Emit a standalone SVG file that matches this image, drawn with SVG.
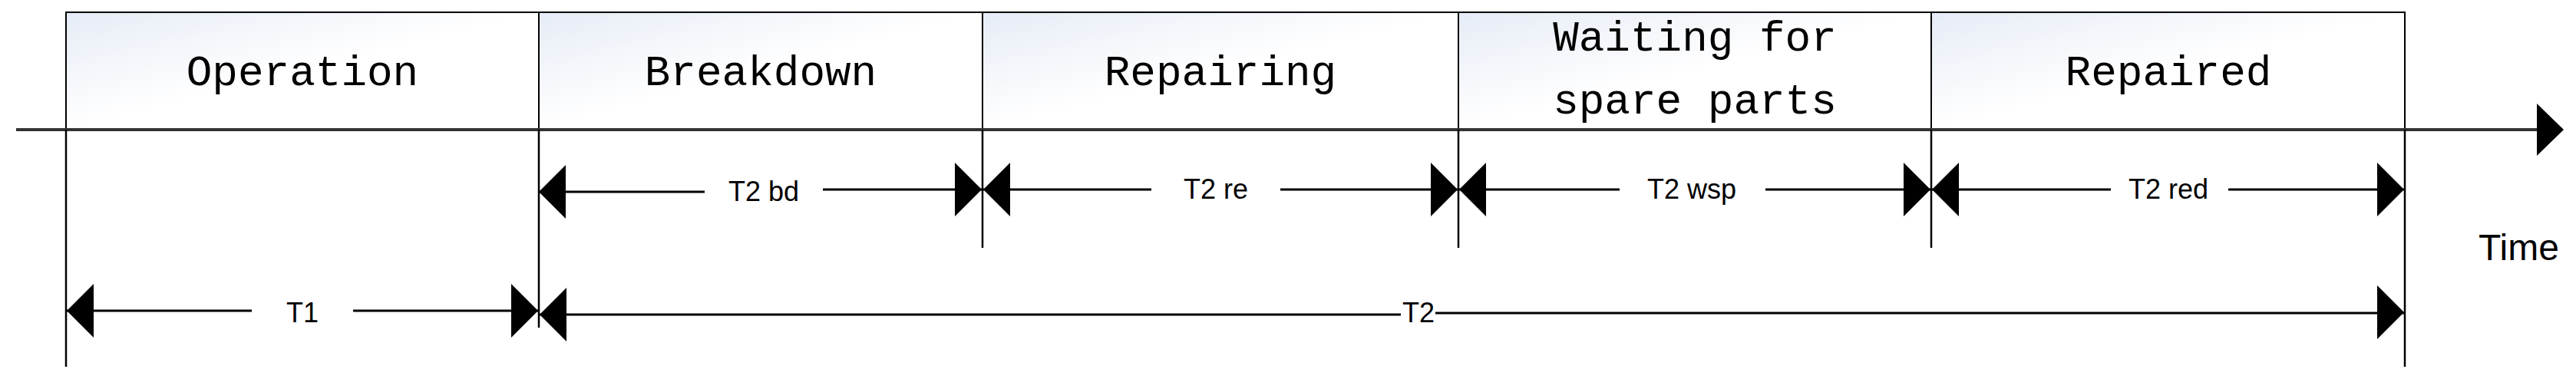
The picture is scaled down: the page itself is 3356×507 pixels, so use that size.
<svg xmlns="http://www.w3.org/2000/svg" width="3356" height="507" viewBox="0 0 3356 507">
<defs>
<linearGradient id="g" x1="0" y1="0" x2="1" y2="1"><stop offset="0" stop-color="#e6ecf6"/><stop offset="0.5" stop-color="#ffffff"/></linearGradient>
<style>
.box{fill:url(#g);stroke:#000;stroke-width:2}
.bt{font-family:"Liberation Mono",monospace;font-size:56px;text-anchor:middle}
.lb{font-family:"Liberation Sans",sans-serif;font-size:36px;text-anchor:middle}
.ln{stroke:#000;stroke-width:3;fill:none}
.v{stroke:#000;stroke-width:2.5}
.ah{fill:#000}
</style>
</defs>
<g id="nodes">
<g id="operation"><rect class="box" x="86" y="16" width="616" height="153"/><text class="bt" x="394" y="111">Operation</text></g>
<g id="breakdown"><rect class="box" x="702" y="16" width="578" height="153"/><text class="bt" x="991" y="111">Breakdown</text></g>
<g id="repairing"><rect class="box" x="1280" y="16" width="620" height="153"/><text class="bt" x="1590" y="111">Repairing</text></g>
<g id="waiting"><rect class="box" x="1900" y="16" width="616" height="153"/><text class="bt" x="2208" y="66">Waiting for</text><text class="bt" x="2208" y="148">spare parts</text></g>
<g id="repaired"><rect class="box" x="2516" y="16" width="617" height="153"/><text class="bt" x="2825" y="111">Repaired</text></g>
<text id="time" x="3229" y="339" font-family="Liberation Sans,sans-serif" font-size="48">Time</text>
</g>
<g id="connectors">
<line x1="21" y1="169" x2="3310" y2="169" stroke="#333" stroke-width="4"/>
<polygon class="ah" points="3305,135 3340,169 3305,203"/>
<line class="v" x1="86" y1="169" x2="86" y2="478"/>
<line class="v" x1="702" y1="169" x2="702" y2="427"/>
<line class="v" x1="1280" y1="169" x2="1280" y2="323"/>
<line class="v" x1="1900" y1="169" x2="1900" y2="323"/>
<line class="v" x1="2516" y1="169" x2="2516" y2="323"/>
<line class="v" x1="3133" y1="169" x2="3133" y2="478"/>
<!-- row 1 -->
<g>
<path class="ln" d="M702,250H918M1072,247H1279"/>
<polygon class="ah" points="702,250 737,215 737,285"/><polygon class="ah" points="1279,247 1244,212 1244,282"/>
<text class="lb" x="995" y="262">T2 bd</text>
<path class="ln" d="M1280,247H1500M1668,247H1900"/>
<polygon class="ah" points="1281,247 1316,212 1316,282"/><polygon class="ah" points="1899,247 1864,212 1864,282"/>
<text class="lb" x="1584" y="259">T2 re</text>
<path class="ln" d="M1900,247H2110M2300,247H2516"/>
<polygon class="ah" points="1901,247 1936,212 1936,282"/><polygon class="ah" points="2515,247 2480,212 2480,282"/>
<text class="lb" x="2204" y="259">T2 wsp</text>
<path class="ln" d="M2516,247H2750M2903,247H3133"/>
<polygon class="ah" points="2517,247 2552,212 2552,282"/><polygon class="ah" points="3132,247 3097,212 3097,282"/>
<text class="lb" x="2825" y="259">T2 red</text>
</g>
<!-- row 2 -->
<g>
<path class="ln" d="M86,405H328M460,405H702"/>
<polygon class="ah" points="87,405 122,370 122,440"/><polygon class="ah" points="701,405 666,370 666,440"/>
<text class="lb" x="394" y="420">T1</text>
<path class="ln" d="M702,410H1825M1870,408H3133"/>
<polygon class="ah" points="703,410 738,375 738,445"/><polygon class="ah" points="3132,407 3097,372 3097,442"/>
<text class="lb" x="1848" y="420">T2</text>
</g>
</g>
</svg>
